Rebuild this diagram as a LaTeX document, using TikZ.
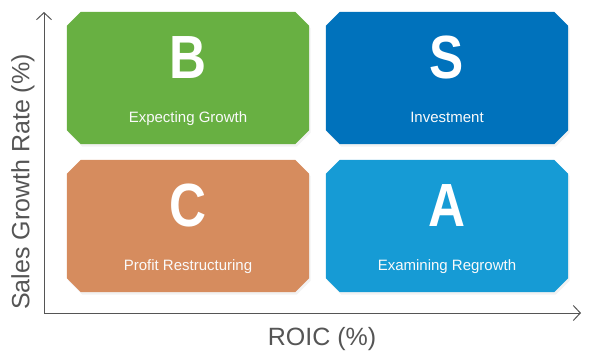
\documentclass[tikz,border=0pt]{standalone}
\usepackage{fontspec}
\setmainfont{Liberation Sans}
\usetikzlibrary{arrows.meta,shadows}

\definecolor{bgreen}{RGB}{104,176,66}
\definecolor{sblue}{RGB}{0,114,188}
\definecolor{corange}{RGB}{214,140,94}
\definecolor{ablue}{RGB}{22,155,213}
\definecolor{axisgray}{RGB}{85,85,85}

\tikzset{
  quad/.style={rectangle, minimum width=242pt, minimum height=132pt,
    inner sep=0pt, draw=none},
  corner/.style={drop shadow={shadow xshift=1.5pt, shadow yshift=-2.5pt, opacity=0.1}},
  grade/.style={anchor=base, text=white, font=\fontsize{61}{61}\selectfont\bfseries},
  caption/.style={anchor=base, text=white!96!gray, font=\fontsize{15}{15}\selectfont},
  axislabel/.style={text=axisgray, font=\fontsize{25}{25}\selectfont}
}

\newcommand{\narrow}[1]{\scalebox{0.84}[1]{#1}}

\begin{document}
\begin{tikzpicture}[x=1pt, y=-1pt]
\useasboundingbox (0,0) rectangle (589,360);

\node[quad] (q1) at (188,78) {};
\node[quad] (q2) at (447,78) {};
\node[quad] (q3) at (188,226) {};
\node[quad] (q4) at (447,226) {};

% boxes with cut corners
\foreach \q/\c in {q1/bgreen, q2/sblue, q3/corange, q4/ablue}
  \fill[\c, corner] ([xshift=14pt]\q.north west) -- ([xshift=-14pt]\q.north east)
    -- ([yshift=-14pt]\q.north east) -- ([yshift=14pt]\q.south east)
    -- ([xshift=-14pt]\q.south east) -- ([xshift=14pt]\q.south west)
    -- ([yshift=14pt]\q.south west) -- ([yshift=-14pt]\q.north west) -- cycle;

\node[grade] (l1) at (188,78) {\narrow{B}};
\node[grade] (l2) at (447,78) {\narrow{S}};
\node[grade] (l3) at (188,226) {\narrow{C}};
\node[grade] (l4) at (447,226) {\narrow{A}};

\node[caption] (t1) at (188,122) {Expecting Growth};
\node[caption] (t2) at (447,122) {Investment};
\node[caption] (t3) at (188,270) {Profit Restructuring};
\node[caption] (t4) at (447,270) {Examining Regrowth};

% axes
\coordinate (o) at (44,313);
\coordinate (ytop) at (44,12);
\coordinate (xend) at (581,313);
\begin{scope}[draw=axisgray, line width=1pt, -{Straight Barb[length=7pt,width=15pt]}]
\draw (o) -- (ytop);
\draw (o) -- (xend);
\end{scope}

\node[axislabel, rotate=90] (ylab) at (23,182) {Sales Growth Rate (\%)};
\node[axislabel, anchor=base] (xlab) at (322,345) {ROIC (\%)};
\end{tikzpicture}
\end{document}
